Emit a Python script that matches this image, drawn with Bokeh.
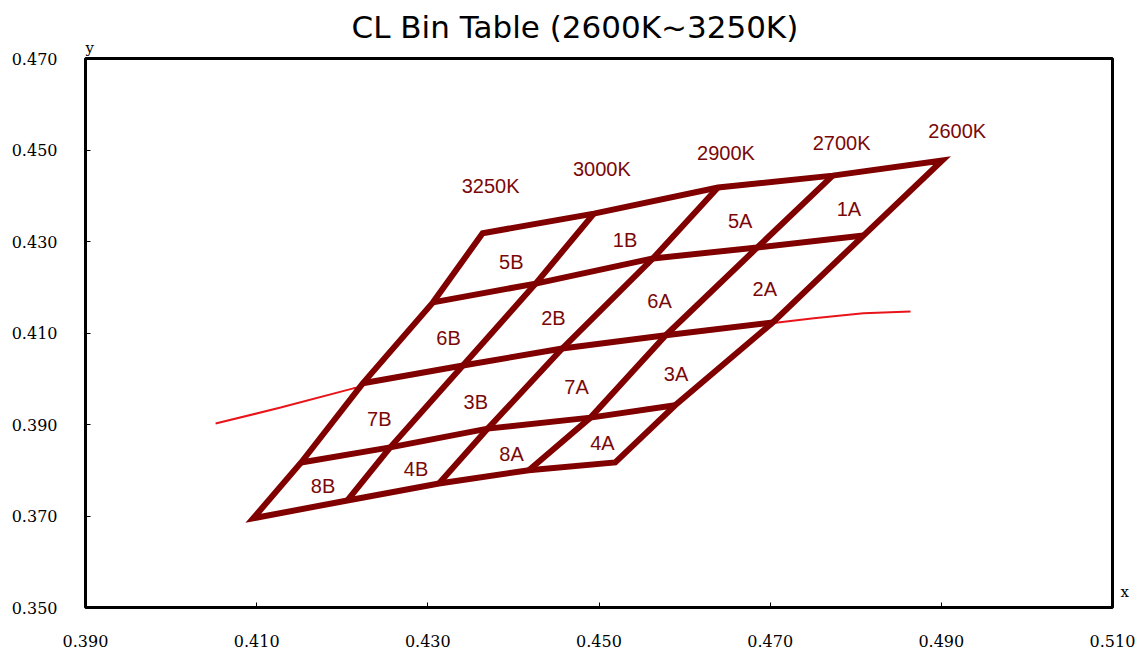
from bokeh.plotting import figure
from bokeh.models import Range1d, FixedTicker, Label, LinearAxis
from bokeh.embed import file_html
from bokeh.resources import INLINE
from bokeh.core.properties import value

# ---------------- data ----------------
cct_names = ["3250K", "3000K", "2900K", "2700K", "2600K"]

# vertices along each isotherm, from the lowest level (0) to the highest (4)
x_3250 = [0.4096, 0.4152, 0.4224, 0.4306, 0.4364]
y_3250 = [0.3695, 0.3817, 0.3990, 0.4167, 0.4318]
x_3000 = [0.4206, 0.4256, 0.4341, 0.4426, 0.4494]
y_3000 = [0.3734, 0.3850, 0.4029, 0.4208, 0.4361]
x_2900 = [0.4313, 0.4370, 0.4457, 0.4563, 0.4639]
y_2900 = [0.3771, 0.3891, 0.4066, 0.4263, 0.4418]
x_2700 = [0.4418, 0.4490, 0.4578, 0.4685, 0.4773]
y_2700 = [0.3800, 0.3915, 0.4095, 0.4287, 0.4444]
x_2600 = [0.4519, 0.4589, 0.4703, 0.4809, 0.4901]
y_2600 = [0.3817, 0.3942, 0.4123, 0.4313, 0.4477]

# bin names per band (bottom band first), left (3250K) to right (2600K)
bins_band0 = ["8B", "4B", "8A", "4A"]
bins_band1 = ["7B", "3B", "7A", "3A"]
bins_band2 = ["6B", "2B", "6A", "2A"]
bins_band3 = ["5B", "1B", "5A", "1A"]

# black-body locus (visible parts)
locus_x = [0.4052, 0.4128, 0.4213, 0.4709, 0.4751, 0.4809, 0.4864]
locus_y = [0.3902, 0.3937, 0.3979, 0.4123, 0.4132, 0.4143, 0.4147]

x_ticks = [0.390, 0.410, 0.430, 0.450, 0.470, 0.490, 0.510]
x_tick_labels = ["0.390", "0.410", "0.430", "0.450", "0.470", "0.490", "0.510"]
y_ticks = [0.350, 0.370, 0.390, 0.410, 0.430, 0.450, 0.470]
y_tick_labels = ["0.350", "0.370", "0.390", "0.410", "0.430", "0.450", "0.470"]

title_text = "CL Bin Table (2600K~3250K)"
x_name = "x"
y_name = "y"

# ---------------- styles ----------------
GRID_COLOR = "#800000"
TEXT_COLOR = "#7a0808"
SANS = "Liberation Sans"
SERIF = "DejaVu Serif"
# pixel offsets of the CCT labels from the top vertex of each isotherm
cct_label_dx = [8, 8, 8, 9, 15]
cct_label_dy = [47, 45, 35, 33, 30]
X_NAME_POS = 0.3533   # where the "x" name sits along the right edge
Y_NAME_POS = 0.3905   # where the "y" name sits along the top edge

iso_x = [x_3250, x_3000, x_2900, x_2700, x_2600]
iso_y = [y_3250, y_3000, y_2900, y_2700, y_2600]
bands = [bins_band0, bins_band1, bins_band2, bins_band3]

p = figure(width=1143, height=654, output_backend="svg", toolbar_location=None,
           x_range=Range1d(0.390, 0.510), y_range=Range1d(0.350, 0.470),
           min_border_left=85, min_border_right=31, min_border_top=58,
           min_border_bottom=47)

p.title.text = title_text
p.title.text_font = "DejaVu Sans"
p.title.text_font_size = "31px"
p.title.text_font_style = "normal"
p.title.text_color = "black"
p.title.align = "left"
p.title.offset = 266
p.title.standoff = -18

p.xgrid.visible = False
p.ygrid.visible = False
p.outline_line_color = "black"
p.outline_line_width = 3
p.background_fill_color = "white"
p.border_fill_color = "white"

for ax, ticks, labels in ((p.xaxis[0], x_ticks, x_tick_labels),
                          (p.yaxis[0], y_ticks, y_tick_labels)):
    ax.ticker = FixedTicker(ticks=ticks)
    ax.major_label_overrides = dict(zip(ticks, labels))
    ax.axis_line_color = None
    ax.major_tick_in = 5
    ax.major_tick_out = 0
    ax.minor_tick_line_color = None
    ax.major_tick_line_color = "black"
    ax.major_label_text_font = SERIF
    ax.major_label_text_font_size = "16px"
    ax.major_label_text_color = "black"
p.xaxis.major_label_standoff = 27
p.yaxis.major_label_standoff = 28

# axis names: "y" above the top-left corner, "x" right of the bottom-right corner
y_name_axis = LinearAxis(ticker=FixedTicker(ticks=[Y_NAME_POS]),
                         major_label_overrides={Y_NAME_POS: y_name},
                         axis_line_color=None, major_tick_line_color=None,
                         major_tick_in=0, major_tick_out=0,
                         minor_tick_line_color=None, minor_tick_in=0,
                         minor_tick_out=0, major_label_standoff=2,
                         major_label_text_font=SERIF,
                         major_label_text_font_size="15px",
                         major_label_text_color="black")
p.add_layout(y_name_axis, "above")
x_name_axis = LinearAxis(ticker=FixedTicker(ticks=[X_NAME_POS]),
                         major_label_overrides={X_NAME_POS: x_name},
                         axis_line_color=None, major_tick_line_color=None,
                         major_tick_in=0, major_tick_out=0,
                         minor_tick_line_color=None, minor_tick_in=0,
                         minor_tick_out=0, major_label_standoff=8,
                         major_label_text_font=SERIF,
                         major_label_text_font_size="15px",
                         major_label_text_color="black")
p.add_layout(x_name_axis, "right")

# black-body locus
p.line(locus_x, locus_y, line_color="#e8141a", line_width=2)

# outer boundary of the bin table (white filled, hides the locus)
n = len(iso_x)
outer_x = [iso_x[i][0] for i in range(n)] + x_2600[1:] + \
          [iso_x[i][4] for i in range(n - 2, -1, -1)] + x_3250[3:0:-1]
outer_y = [iso_y[i][0] for i in range(n)] + y_2600[1:] + \
          [iso_y[i][4] for i in range(n - 2, -1, -1)] + y_3250[3:0:-1]
p.patch(outer_x, outer_y, fill_color="white", line_color=GRID_COLOR,
        line_width=6, line_join="miter")

# interior lines: isotherms and level lines
xs, ys = [], []
for i in range(1, n - 1):
    xs.append(iso_x[i])
    ys.append(iso_y[i])
for lev in range(1, 4):
    xs.append([iso_x[i][lev] for i in range(n)])
    ys.append([iso_y[i][lev] for i in range(n)])
p.multi_line(xs, ys, line_color=GRID_COLOR, line_width=6, line_cap="butt")

# bin labels at the centre of each cell
lx, ly, lt = [], [], []
for b, names in enumerate(bands):
    for c, name in enumerate(names):
        cx = (iso_x[c][b] + iso_x[c + 1][b] + iso_x[c + 1][b + 1] + iso_x[c][b + 1]) / 4
        cy = (iso_y[c][b] + iso_y[c + 1][b] + iso_y[c + 1][b + 1] + iso_y[c][b + 1]) / 4
        lx.append(cx)
        ly.append(cy)
        lt.append(name)
p.text(lx, ly, text=lt, text_align="center", text_baseline="middle",
       text_font=value(SANS), text_font_size="20px", text_color=TEXT_COLOR,
       y_offset=4)

# CCT labels above each isotherm
for i, name in enumerate(cct_names):
    p.add_layout(Label(x=iso_x[i][4], y=iso_y[i][4], x_offset=cct_label_dx[i],
                       y_offset=cct_label_dy[i], text=name, text_align="center",
                       text_baseline="middle", text_font=SANS,
                       text_font_size="20px", text_color=TEXT_COLOR))

open("out.html", "w").write(file_html(p, INLINE))
